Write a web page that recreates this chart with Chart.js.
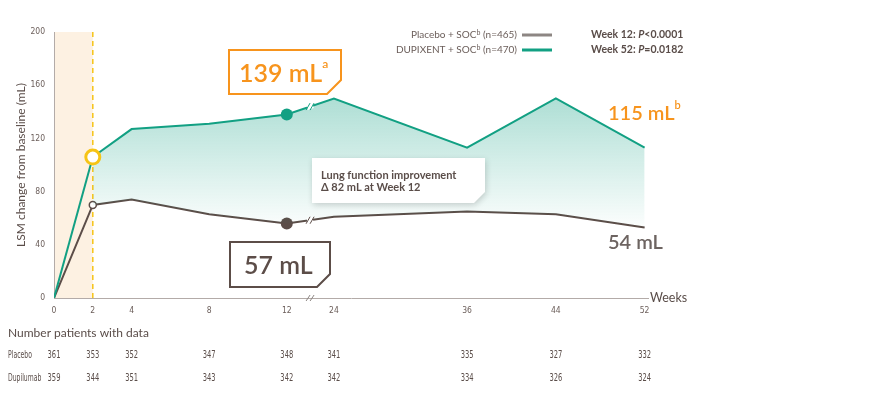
<!DOCTYPE html>
<html>
<head>
<meta charset="utf-8">
<script src="https://cdn.jsdelivr.net/npm/chart.js@4"></script>
<style>
  html, body { margin: 0; padding: 0; background: #fff; }
</style>
</head>
<body>
<canvas id="lsm-chart" width="882" height="394"></canvas>
<script>
const weeks = [0, 2, 4, 8, 12, 24, 36, 44, 52]
const tickLabels = ['0', '2', '4', '8', '12', '24', '36', '44', '52']
const dupixentValues = [0, 106, 127, 131, 138, 150, 113, 150, 113]
const placeboValues = [0, 70, 74, 63, 56, 61, 65, 63, 53]
const placeboCounts = [361, 353, 352, 347, 348, 341, 335, 327, 332]
const dupilumabCounts = [359, 344, 351, 343, 342, 342, 334, 326, 324]
const yTicks = [0, 40, 80, 120, 160, 200]

const GREEN = '#12a083'
const PLACEBO = '#5c4d48'
const ORANGE = '#f7941d'
const YELLOW = '#f6c416'
const TEXT = '#5a4d49'
const AXIS = '#b3aba8'
const SANS = "Lato, 'Noto Sans', sans-serif"
const NARROW = "'Liberation Sans Narrow', 'DejaVu Sans Condensed', Roboto, sans-serif"

// broken axis: weeks 0-12 get more room than weeks 24-52
function weekPos(w) {
  return w <= 12 ? w : 14.43 + (w - 24) * 0.572
}

function cutBox(c, x, y, w, h, cut) {
  c.beginPath()
  c.moveTo(x, y)
  c.lineTo(x + w, y)
  c.lineTo(x + w, y + h - cut)
  c.lineTo(x + w - cut, y + h)
  c.lineTo(x, y + h)
  c.closePath()
}

function runs(c, parts, x, y, align) {
  let total = 0
  parts.forEach((p) => {
    c.font = p.font
    p.w = c.measureText(p.text).width
    total += p.w
  })
  let cx = align === 'right' ? x - total : x
  c.textAlign = 'left'
  parts.forEach((p) => {
    c.font = p.font
    c.fillStyle = p.color
    c.fillText(p.text, cx, y + (p.dy || 0))
    cx += p.w
  })
}

// no condensed face installed, so squeeze the glyphs instead
function narrowText(c, text, x, y, align, squeeze) {
  c.save()
  c.translate(x, y)
  c.scale(squeeze, 1)
  c.textAlign = align
  c.fillText(text, 0, 0)
  c.restore()
}

const backdrop = {
  id: 'backdrop',
  beforeDatasetsDraw(chart) {
    const { ctx: c, chartArea: a, scales } = chart
    const x2 = scales.x.getPixelForValue(weekPos(2))
    c.save()
    c.fillStyle = '#fdf1e2'
    c.fillRect(a.left + 1, a.top, x2 - a.left - 1, a.bottom - a.top)
    c.strokeStyle = YELLOW
    c.lineWidth = 1.5
    c.setLineDash([5, 4])
    c.beginPath()
    c.moveTo(x2, a.top)
    c.lineTo(x2, a.bottom)
    c.stroke()
    c.restore()
  },
}

const overlay = {
  id: 'overlay',
  afterDraw(chart) {
    const { ctx: c, chartArea: a, scales } = chart
    const bx = scales.x.getPixelForValue(13.2)
    c.save()

    // break marks on both lines
    ;[0, 1].forEach((i) => {
      const pts = chart.getDatasetMeta(i).data
      const p0 = pts[4]
      const p1 = pts[5]
      const slope = (p1.y - p0.y) / (p1.x - p0.x)
      const by = p0.y + slope * (bx - p0.x)
      c.strokeStyle = '#fff'
      c.lineWidth = 5
      c.beginPath()
      c.moveTo(bx - 3, by - slope * 3)
      c.lineTo(bx + 3, by + slope * 3)
      c.stroke()
      c.strokeStyle = i === 0 ? GREEN : PLACEBO
      c.lineWidth = 1
      ;[-2, 2].forEach((k) => {
        c.beginPath()
        c.moveTo(bx + k - 2, by + 3.5)
        c.lineTo(bx + k + 2, by - 3.5)
        c.stroke()
      })
    })

    // break mark on the x axis
    c.strokeStyle = '#8d8683'
    c.lineWidth = 1
    ;[-2, 2].forEach((k) => {
      c.beginPath()
      c.moveTo(bx + k - 2, a.bottom + 3)
      c.lineTo(bx + k + 2, a.bottom - 3)
      c.stroke()
    })

    c.textBaseline = 'middle'
    c.fillStyle = TEXT
    c.font = `12.5px ${SANS}`
    c.fillText('Weeks', a.right + 2, a.bottom)

    // legend
    c.textBaseline = 'alphabetic'
    const legendFont = `10px ${SANS}`
    const supFont = `7px ${SANS}`
    runs(c, [
      { text: 'Placebo + SOC', font: legendFont, color: '#6b5e5a' },
      { text: 'b', font: supFont, color: '#6b5e5a', dy: -3 },
      { text: ' (n=465)', font: legendFont, color: '#6b5e5a' },
    ], 517, 38, 'right')
    runs(c, [
      { text: 'DUPIXENT + SOC', font: legendFont, color: '#6b5e5a' },
      { text: 'b', font: supFont, color: '#6b5e5a', dy: -3 },
      { text: ' (n=470)', font: legendFont, color: '#6b5e5a' },
    ], 517, 53, 'right')
    c.lineWidth = 3
    c.strokeStyle = '#8d8683'
    c.beginPath(); c.moveTo(522, 35); c.lineTo(552, 35); c.stroke()
    c.strokeStyle = GREEN
    c.beginPath(); c.moveTo(522, 50); c.lineTo(552, 50); c.stroke()

    const pBold = `bold 10.5px ${SANS}`
    const pItal = `italic bold 10.5px ${SANS}`
    runs(c, [
      { text: 'Week 12: ', font: pBold, color: TEXT },
      { text: 'P', font: pItal, color: TEXT },
      { text: '<0.0001', font: pBold, color: TEXT },
    ], 591, 38)
    runs(c, [
      { text: 'Week 52: ', font: pBold, color: TEXT },
      { text: 'P', font: pItal, color: TEXT },
      { text: '=0.0182', font: pBold, color: TEXT },
    ], 591, 53)

    // 139 mL box
    cutBox(c, 229, 50, 112, 44, 14)
    c.fillStyle = '#fff'
    c.fill()
    c.strokeStyle = ORANGE
    c.lineWidth = 2
    c.stroke()
    runs(c, [
      { text: '139 mL', font: `600 25px ${SANS}`, color: ORANGE },
      { text: 'a', font: `600 12px ${SANS}`, color: ORANGE, dy: -14 },
    ], 239, 82)

    // 57 mL box
    cutBox(c, 230, 242, 100, 45, 13)
    c.fillStyle = '#fff'
    c.fill()
    c.strokeStyle = PLACEBO
    c.stroke()
    runs(c, [{ text: '57 mL', font: `600 25px ${SANS}`, color: PLACEBO }], 244, 274)

    // difference callout
    c.save()
    c.shadowColor = 'rgba(0,0,0,0.18)'
    c.shadowBlur = 6
    c.shadowOffsetX = 1
    c.shadowOffsetY = 2
    cutBox(c, 312, 158, 173, 45, 11)
    c.fillStyle = '#fff'
    c.fill()
    c.restore()
    c.font = `bold 11px ${SANS}`
    c.fillStyle = TEXT
    c.fillText('Lung function improvement', 321, 179)
    c.fillText('\u0394 82 mL at Week 12', 321, 191)

    // end labels
    runs(c, [
      { text: '115 mL', font: `600 20px ${SANS}`, color: ORANGE },
      { text: 'b', font: `600 11px ${SANS}`, color: ORANGE, dy: -11 },
    ], 608, 120)
    runs(c, [{ text: '54 mL', font: `600 20px ${SANS}`, color: '#6d6461' }], 608, 249)

    // patients table
    c.font = `12px ${SANS}`
    c.fillStyle = TEXT
    c.textBaseline = 'middle'
    c.fillText('Number patients with data', 8, 333)
    c.font = `10px ${NARROW}`
    narrowText(c, 'Placebo', 8, 355, 'left', 0.68)
    narrowText(c, 'Dupilumab', 8, 378, 'left', 0.68)
    weeks.forEach((w, i) => {
      const x = scales.x.getPixelForValue(weekPos(w))
      narrowText(c, String(placeboCounts[i]), x, 355, 'center', 0.75)
      narrowText(c, String(dupilumabCounts[i]), x, 378, 'center', 0.75)
    })
    c.restore()
  },
}

function greenFill(context) {
  const chart = context.chart
  if (!chart.chartArea) return 'rgba(18,160,131,0.2)'
  const y = chart.scales.y
  const g = chart.ctx.createLinearGradient(0, y.getPixelForValue(150), 0, y.getPixelForValue(55))
  g.addColorStop(0, 'rgba(18,160,131,0.34)')
  g.addColorStop(1, 'rgba(18,160,131,0.02)')
  return g
}

const canvas = document.getElementById('lsm-chart')

new Chart(canvas, {
  type: 'line',
  data: {
    datasets: [
      {
        label: 'DUPIXENT + SOC',
        data: weeks.map((w, i) => ({ x: weekPos(w), y: dupixentValues[i] })),
        borderColor: GREEN,
        borderWidth: 2,
        tension: 0,
        fill: '+1',
        backgroundColor: greenFill,
        segment: {
          backgroundColor: (ctx) => (ctx.p0DataIndex === 0 ? 'rgba(0,0,0,0)' : undefined),
        },
        pointRadius: (ctx) => (ctx.dataIndex === 1 ? 7 : ctx.dataIndex === 4 ? 6 : 0),
        pointBackgroundColor: (ctx) => (ctx.dataIndex === 1 ? '#fff' : GREEN),
        pointBorderColor: (ctx) => (ctx.dataIndex === 1 ? YELLOW : GREEN),
        pointBorderWidth: (ctx) => (ctx.dataIndex === 1 ? 3 : 0),
        pointHoverRadius: 0,
      },
      {
        label: 'Placebo + SOC',
        data: weeks.map((w, i) => ({ x: weekPos(w), y: placeboValues[i] })),
        borderColor: PLACEBO,
        borderWidth: 2,
        tension: 0,
        fill: false,
        pointRadius: (ctx) => (ctx.dataIndex === 1 ? 3.5 : ctx.dataIndex === 4 ? 6 : 0),
        pointBackgroundColor: (ctx) => (ctx.dataIndex === 1 ? '#fff' : PLACEBO),
        pointBorderColor: PLACEBO,
        pointBorderWidth: (ctx) => (ctx.dataIndex === 1 ? 1.5 : 0),
        pointHoverRadius: 0,
      },
    ],
  },
  options: {
    responsive: false,
    animation: false,
    layout: { padding: { left: 0, top: 32, right: 234, bottom: 0 } },
    plugins: {
      legend: { display: false },
      tooltip: { enabled: false },
    },
    scales: {
      x: {
        type: 'linear',
        min: 0,
        max: 30.62,
        afterFit: (scale) => { scale.height = 96 },
        afterBuildTicks: (scale) => {
          scale.ticks = weeks.map((w) => ({ value: weekPos(w) }))
        },
        ticks: {
          callback: (value, index) => tickLabels[index],
          color: '#6b5e5a',
          font: { family: NARROW, size: 8.5 },
          padding: 8,
          maxRotation: 0,
          autoSkip: false,
        },
        grid: { display: false, drawTicks: false },
        border: { color: AXIS, width: 1 },
      },
      y: {
        min: 0,
        max: 200,
        afterFit: (scale) => { scale.width = 54 },
        afterBuildTicks: (scale) => {
          scale.ticks = yTicks.map((v) => ({ value: v }))
        },
        ticks: {
          color: '#6b5e5a',
          font: { family: NARROW, size: 8.5 },
          padding: 9,
        },
        grid: { display: false, drawTicks: false },
        border: { color: AXIS, width: 1 },
        title: {
          display: true,
          text: 'LSM change from baseline (mL)',
          color: TEXT,
          font: { family: SANS, size: 12 },
          padding: { top: 14, bottom: 0 },
        },
      },
    },
  },
  plugins: [backdrop, overlay],
})
</script>
</body>
</html>
